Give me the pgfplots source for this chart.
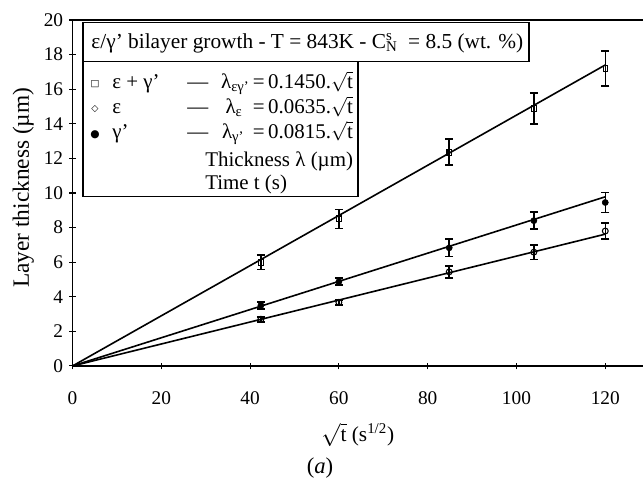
\documentclass[border=0pt]{standalone}
\usepackage{fontspec}
\setmainfont{Liberation Serif}
\newfontfamily\dejavu{DejaVu Sans}
\usepackage{pgfplots}
\usetikzlibrary{calc}
\pgfplotsset{compat=1.18}
\newcommand{\sqt}{$\sqrt{\mbox{t}}$}
\begin{document}
\begin{tikzpicture}
\begin{axis}[
  scale only axis, width=427.9pt, height=259.5pt,
  xmin=0, xmax=128.5, ymin=0, ymax=20,
  axis x line*=bottom, axis y line*=left,
  axis line style={line width=1.3pt, -},
  xtick={0,20,...,120}, ytick={0,2,...,20},
  tick align=center, major tick length=5pt,
  tick style={line width=0.8pt, black},
  /pgf/number format/assume math mode=true,
  tick label style={font=\fontsize{14.5}{14.5}\selectfont},
  xticklabel style={yshift=-13pt},
  yticklabel style={xshift=-1pt},
  xlabel={\sqt\ (s\textsuperscript{1/2})},
  ylabel={Layer thickness (µm)},
  xlabel style={font=\fontsize{16}{16}\selectfont, yshift=-7pt},
  every axis y label/.style={at={(axis description cs:-0.0865,0.515)}, rotate=90, anchor=center, font=\fontsize{17.5}{17.5}\selectfont},
  clip=false,
]
% title box and legend box
\draw[line width=0.9pt] (axis cs:2.36,19.86) rectangle (axis cs:102.8,17.6);
\draw[line width=0.9pt] (axis cs:2.36,17.6) rectangle (axis cs:64.3,9.81);
\node[anchor=base, inner sep=0pt, font=\fontsize{16}{16}\selectfont] at (axis cs:52.9,18.35)
  {ε/γ' bilayer growth - T = 843K - C\rlap{\textsuperscript{s}}\textsubscript{N}\ \ = 8.5 (wt. \%)};
% legend rows
\begin{scope}[every node/.style={inner sep=0pt, font=\fontsize{15.7}{15.7}\selectfont}]
\node[anchor=base, font=\dejavu\fontsize{7}{7}\selectfont] at (axis cs:5.07,16.14) {□};
\node[anchor=base, font=\dejavu\fontsize{7}{7}\selectfont] at (axis cs:5.07,14.70) {◇};
\node[anchor=base, font=\dejavu\fontsize{8}{8}\selectfont] at (axis cs:5.07,13.22) {●};
\node[anchor=base west] at (axis cs:8.9,16.04) {ε + γ'};
\node[anchor=base west] at (axis cs:8.9,14.60) {ε};
\node[anchor=base west] at (axis cs:8.9,13.16) {γ'};
\node[anchor=base west] at (axis cs:25.8,16.04) {—};
\node[anchor=base west] at (axis cs:25.8,14.60) {—};
\node[anchor=base west] at (axis cs:25.8,13.16) {—};
\node[anchor=base east] at (axis cs:63.2,16.04) {λ\textsubscript{εγ'}\,=\,0.1450.\sqt};
\node[anchor=base east] at (axis cs:63.2,14.60) {λ\textsubscript{ε}\ \ =\,0.0635.\sqt};
\node[anchor=base east] at (axis cs:63.2,13.16) {λ\textsubscript{γ'}\ \,=\,0.0815.\sqt};
\node[anchor=base west] at (axis cs:29.84,11.54) {Thickness λ (µm)};
\node[anchor=base west] at (axis cs:29.84,10.21) {Time t (s)};
\end{scope}
% fitted lines
\addplot[black, line width=1.2pt] coordinates {(0,0) (120,17.40)};
\addplot[black, line width=1.2pt] coordinates {(0,0) (120,9.78)};
\addplot[black, line width=1.2pt] coordinates {(0,0) (120,7.62)};
% epsilon + gamma'
\addplot[black, only marks, mark=square, mark size=2.2pt, mark options={fill=white, line width=0.8pt, xscale=0.75},
  error bars/.cd, y dir=both, y explicit, error mark options={rotate=90, mark size=3pt, line width=1.3pt},
  error bar style={line width=1.1pt}]
  coordinates {(42.43,6.0) +- (0,0.42) (60,8.5) +- (0,0.55) (84.85,12.35) +- (0,0.75) (103.92,14.87) +- (0,0.9) (120,17.2) +- (0,1.0)};
% gamma'
\addplot[black, only marks, mark=*, mark size=2.3pt,
  error bars/.cd, y dir=both, y explicit, error mark options={rotate=90, mark size=3pt, line width=1.3pt},
  error bar style={line width=1.1pt}]
  coordinates {(42.43,3.5) +- (0,0.2) (60,4.87) +- (0,0.2) (84.85,6.83) +- (0,0.5) (103.92,8.4) +- (0,0.5) (120,9.45) +- (0,0.58)};
% epsilon
\addplot[black, only marks, mark=o, mark size=2.2pt, mark options={fill=white, line width=0.8pt},
  error bars/.cd, y dir=both, y explicit, error mark options={rotate=90, mark size=3pt, line width=1.3pt},
  error bar style={line width=1.1pt}]
  coordinates {(42.43,2.7) +- (0,0.15) (60,3.68) +- (0,0.15) (84.85,5.44) +- (0,0.35) (103.92,6.58) +- (0,0.43) (120,7.8) +- (0,0.48)};
% top border
\draw[line width=1.3pt] (rel axis cs:0,1) -- (rel axis cs:1,1);
\coordinate (bl) at (rel axis cs:0,0);
\coordinate (tr) at (rel axis cs:1,1);
\end{axis}
\node[font=\fontsize{17}{17}\selectfont] at ($(bl)+(185.6pt,-76.5pt)$) {(\textit{a})};
\pgfresetboundingbox
\path ($(bl)+(-54.4pt,-86.25pt)$) rectangle ($(tr)+(0pt,15pt)$);
\end{tikzpicture}
\end{document}
